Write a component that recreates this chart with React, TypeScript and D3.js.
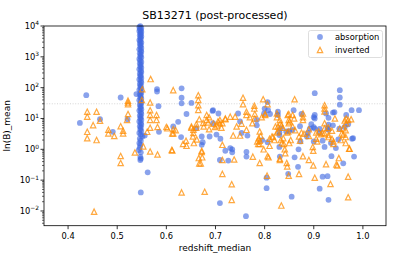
import React from 'react';
import * as d3 from 'd3';

// redshift_median, ln(B)_mean
const absorption: [number, number][] = [
  [0.437, 57], [0.424, 7.2], [0.465, 9.5], [0.507, 48], [0.539, 62], [0.521, 9.5], [0.491, 3.7],
  [0.581, 90], [0.581, 75], [0.584, 25], [0.631, 95], [0.631, 47], [0.631, 31], [0.651, 32], [0.641, 14],
  [0.614, 5.5], [0.661, 4.8], [0.585, 3.7], [0.556, 2.8], [0.562, 0.18], [0.548, 0.04], [0.63, 2.5],
  [0.695, 18.6], [0.706, 14.5], [0.806, 34], [0.902, 66], [0.953, 83], [0.953, 48], [0.953, 28],
  [0.977, 18.6], [0.992, 18.6], [0.966, 13], [0.939, 15.5], [0.902, 13], [0.902, 10], [0.827, 16.6],
  [0.8, 21], [0.746, 14.5], [0.695, 7], [0.75, 8], [0.784, 9], [0.784, 6], [0.811, 14], [0.892, 4.7],
  [0.902, 4.7], [0.952, 4.7], [0.928, 4.7], [0.939, 6], [0.85, 3.9], [0.872, 5.6],
  [0.763, 0.58], [0.804, 0.12], [0.804, 0.055], [0.709, 0.018], [0.762, 0.0068], [0.855, 0.029],
  [0.93, 0.023], [0.912, 0.053], [0.928, 0.135], [0.918, 0.13], [0.848, 0.16], [0.868, 0.27],
  [0.831, 0.58], [0.861, 0.55], [0.936, 0.6], [0.96, 0.35], [0.982, 0.58], [0.98, 2.3], [0.709, 0.45],
  [0.726, 0.43], [0.734, 1.0], [0.734, 0.8], [0.672, 1.4], [0.765, 2.8], [0.795, 2.0], [0.806, 1.7],
  [0.83, 1.2], [0.869, 1.0], [0.886, 2.6], [0.922, 1.2], [0.935, 1.6], [0.945, 1.1], [0.95, 2.1],
  [0.888, 3.4], [0.912, 3.4], [0.694, 17.6], [0.807, 18.6], [0.799, 14.5], [0.624, 7.8], [0.702, 3.0],
  [0.71, 2.2], [0.73, 1.1], [0.72, 0.9], [0.753, 3.4], [0.763, 0.83], [0.672, 2.6], [0.674, 1.7],
  [0.688, 2.6], [0.827, 13], [0.859, 18.6], [0.875, 14], [0.9, 11], [0.925, 14.5], [0.93, 10.5],
  [0.942, 16], [0.97, 6.5], [0.978, 2.2], [0.833, 4.7], [0.844, 3.8], [0.857, 4.3], [0.895, 6.5],
  [0.9, 5.2], [0.912, 4.6], [0.93, 6.3], [0.93, 4.3], [0.963, 5.3], [0.9, 1.8], [0.873, 1.8],
  [0.83, 3.5], [0.83, 2.9], [0.918, 1.9],
];

// the dense absorption column near z ~ 0.547
const absorptionColumn: [number, number][] = [
  [0.547, 9800], [0.545, 9200], [0.549, 8600], [0.546, 8000], [0.548, 7400], [0.545, 6900],
  [0.549, 6400], [0.547, 5900], [0.548, 5400], [0.546, 5000], [0.549, 4600], [0.547, 4200],
  [0.548, 3800], [0.545, 3500], [0.547, 3200], [0.549, 2900], [0.546, 2650], [0.548, 2400],
  [0.547, 2150], [0.549, 1950], [0.545, 1750], [0.548, 1600], [0.549, 1450], [0.546, 1300],
  [0.548, 1180], [0.547, 1050], [0.549, 950], [0.545, 850], [0.547, 760], [0.549, 680],
  [0.546, 610], [0.548, 550], [0.547, 490], [0.549, 440], [0.545, 395], [0.548, 355],
  [0.549, 320], [0.546, 285], [0.548, 255], [0.547, 230], [0.549, 205], [0.545, 185],
  [0.548, 165], [0.549, 148], [0.546, 132], [0.548, 118], [0.547, 106], [0.549, 95],
  [0.545, 85], [0.548, 76], [0.549, 68], [0.546, 61], [0.548, 55], [0.547, 49], [0.549, 44],
  [0.545, 39], [0.548, 35], [0.549, 31], [0.546, 28], [0.548, 25], [0.547, 22], [0.549, 20],
  [0.545, 18], [0.548, 16], [0.549, 14], [0.546, 12.5], [0.548, 11.2], [0.547, 10], [0.549, 9],
  [0.545, 8], [0.548, 7.1], [0.549, 6.3], [0.546, 5.6], [0.548, 5], [0.547, 4.4], [0.549, 3.9],
  [0.545, 3.4], [0.548, 3], [0.551, 2.6], [0.546, 2.2], [0.548, 1.9], [0.545, 1.6], [0.547, 1.4],
  [0.546, 1.15], [0.544, 0.95], [0.548, 0.8], [0.547, 0.57], [0.548, 0.5], [0.547, 0.45],
];

const inverted: [number, number][] = [
  [0.439, 16.6], [0.439, 11.5], [0.458, 16.6], [0.465, 8.5], [0.451, 6.1], [0.439, 3.7], [0.522, 38],
  [0.522, 33], [0.522, 29], [0.522, 14], [0.52, 9], [0.507, 5.6], [0.551, 89], [0.55, 40], [0.568, 190],
  [0.567, 33], [0.567, 18.6], [0.567, 13], [0.567, 9], [0.58, 13], [0.58, 9], [0.614, 83], [0.665, 57],
  [0.665, 40], [0.665, 27], [0.665, 19], [0.614, 4.5], [0.651, 5], [0.661, 5], [0.6, 5.3], [0.582, 5.3],
  [0.567, 5], [0.561, 3.7], [0.482, 4.3], [0.512, 4.0], [0.439, 2.3], [0.458, 2.0], [0.482, 3.3],
  [0.494, 2.7], [0.512, 3.3], [0.507, 0.61], [0.507, 0.36], [0.536, 0.79], [0.553, 1.25], [0.567, 0.85],
  [0.582, 0.68], [0.612, 0.92], [0.612, 3.3], [0.631, 0.04], [0.641, 1.3], [0.656, 1.6], [0.662, 2.1],
  [0.666, 0.52], [0.667, 0.35], [0.453, 0.0095], [0.655, 3.4], [0.756, 47], [0.756, 29], [0.797, 42],
  [0.806, 29], [0.779, 26], [0.779, 21], [0.861, 42], [0.922, 27], [0.922, 21], [0.966, 10], [0.943, 10],
  [0.878, 14.5], [0.825, 14.5], [0.825, 11], [0.801, 14], [0.801, 13], [0.847, 13], [0.857, 13],
  [0.763, 16.6], [0.763, 13], [0.78, 14], [0.78, 10], [0.73, 11.5], [0.74, 11.5], [0.72, 10],
  [0.682, 13], [0.682, 9], [0.709, 9], [0.709, 7], [0.794, 11], [0.922, 7], [0.922, 4.8], [0.953, 4.7],
  [0.966, 7], [0.97, 9], [0.862, 4.2], [0.827, 5.5], [0.851, 8], [0.86, 10], [0.827, 3.8],
  [0.805, 0.14], [0.733, 0.023], [0.733, 0.074], [0.714, 0.16], [0.678, 0.042], [0.834, 0.015],
  [0.97, 0.028], [0.934, 0.075], [0.902, 0.12], [0.97, 0.13], [0.87, 0.16], [0.849, 0.14], [0.79, 0.36],
  [0.776, 0.58], [0.806, 0.6], [0.808, 0.55], [0.831, 0.5], [0.831, 0.45], [0.845, 0.36], [0.846, 0.28],
  [0.878, 0.6], [0.89, 0.45], [0.899, 0.3], [0.925, 0.33], [0.946, 0.32], [0.948, 0.3], [0.951, 0.52],
  [0.972, 1.05], [0.965, 1.6], [0.714, 0.45], [0.738, 0.47], [0.714, 1.4], [0.672, 0.9], [0.673, 0.55],
  [0.67, 0.35], [0.75, 2.8], [0.736, 2.8], [0.785, 1.8], [0.788, 2.3], [0.787, 1.5], [0.798, 1.0],
  [0.81, 2.2], [0.815, 2.6], [0.82, 2.0], [0.838, 2.3], [0.839, 1.5], [0.841, 1.0], [0.842, 0.75],
  [0.87, 2.6], [0.872, 1.9], [0.898, 1.2], [0.899, 0.9], [0.905, 2.2], [0.907, 1.8], [0.93, 2.5],
  [0.937, 2.2], [0.94, 1.5], [0.965, 2.5], [0.96, 3.0], [0.922, 3.3], [0.957, 3.3], [0.602, 4.8],
  [0.614, 3.3], [0.619, 4.2], [0.651, 5.5], [0.655, 4.3], [0.661, 6.5], [0.667, 9.5], [0.675, 7.2],
  [0.676, 5.5], [0.685, 7.4], [0.687, 11], [0.687, 4.5], [0.696, 6.8], [0.699, 5.3], [0.703, 6],
  [0.705, 8], [0.712, 5], [0.714, 7], [0.72, 9.5], [0.743, 5.5], [0.753, 6.8], [0.763, 4.3], [0.77, 11],
  [0.775, 7], [0.79, 3.8], [0.792, 2.7], [0.79, 1.9], [0.79, 1.5], [0.81, 1.3], [0.817, 2.5],
  [0.822, 5.5], [0.825, 3.5], [0.611, 0.95], [0.672, 0.82], [0.634, 1.5], [0.64, 1.9], [0.654, 2.6],
  [0.922, 17], [0.849, 14], [0.878, 11], [0.878, 9], [0.963, 8.7], [0.976, 9.5], [0.973, 1.05],
  [0.831, 9], [0.832, 7], [0.834, 6], [0.837, 5], [0.849, 9], [0.849, 7], [0.857, 5.5], [0.846, 3.5],
  [0.848, 3.8], [0.89, 4.5], [0.905, 3.5], [0.91, 3.8], [0.915, 3.1], [0.918, 3.4], [0.93, 5],
  [0.937, 4], [0.93, 2.9], [0.94, 1.8], [0.965, 4.2], [0.96, 4.8], [0.875, 3.5], [0.88, 3.2],
  [0.89, 2.7], [0.85, 1.6], [0.853, 2.0], [0.833, 2.0], [0.835, 1.6], [0.955, 2.0],
];

const xTicks = [0.4, 0.5, 0.6, 0.7, 0.8, 0.9, 1.0];
const yExponents = [-2, -1, 0, 1, 2, 3, 4];
const threshold = 30;

const W = 399;
const H = 266;
const m = { left: 44, right: 386, top: 26, bottom: 225.7 };
const font = 'DejaVu Sans, sans-serif';
const blue = '#4169e1';
const orange = '#ff8c00';

const tri = (r: number) => `M0,${-r}L${r},${r}L${-r},${r}Z`;

export default function App() {
  const x = d3.scaleLinear().domain([0.351, 1.047]).range([m.left, m.right]);
  const y = d3.scaleLog().domain([0.00333, 10000]).range([m.bottom, m.top]);

  const minor: number[] = [];
  for (let e = -3; e < 4; e++) {
    for (let k = 2; k < 10; k++) {
      const v = k * Math.pow(10, e);
      if (v >= 0.00333 && v <= 10000) minor.push(v);
    }
  }

  const blues = [...absorption, ...absorptionColumn];

  return (
    <svg width={W} height={H} style={{ position: 'absolute', left: 0, top: 0 }} fontFamily={font}>
      <rect width={W} height={H} fill="white" />
      <line x1={m.left} x2={m.right} y1={y(threshold)} y2={y(threshold)}
        stroke="#cccccc" strokeWidth={0.8} strokeDasharray="1,1.6" />
      {blues.map((d, i) => (
        <circle key={'a' + i} cx={x(d[0])} cy={y(d[1])} r={2.9} fill={blue} fillOpacity={0.62} />
      ))}
      {inverted.map((d, i) => (
        <path key={'i' + i} d={tri(2.7)} transform={`translate(${x(d[0])},${y(d[1])})`}
          fill="none" stroke={orange} strokeOpacity={0.75} strokeWidth={1.2} />
      ))}
      <rect x={m.left} y={m.top} width={m.right - m.left} height={m.bottom - m.top}
        fill="none" stroke="black" strokeWidth={0.8} />
      {xTicks.map(t => (
        <g key={'x' + t} transform={`translate(${x(t)},${m.bottom})`}>
          <line y2={3.5} stroke="black" strokeWidth={0.8} />
          <text y={13.8} textAnchor="middle" fontSize={8.3}>{t.toFixed(1)}</text>
        </g>
      ))}
      {minor.map(v => (
        <line key={'m' + v} x1={m.left - 2} x2={m.left} y1={y(v)} y2={y(v)} stroke="black" strokeWidth={0.6} />
      ))}
      {yExponents.map(e => (
        <g key={'y' + e} transform={`translate(${m.left},${y(Math.pow(10, e))})`}>
          <line x2={-3.5} stroke="black" strokeWidth={0.8} />
          <text x={-5} y={3} textAnchor="end" fontSize={8.3}>
            10<tspan fontSize={5.9} dy={-3.6}>{e < 0 ? '\u2212' + -e : e}</tspan>
          </text>
        </g>
      ))}
      <text x={(m.left + m.right) / 2} y={19} textAnchor="middle" fontSize={11}>SB13271 (post-processed)</text>
      <text x={(m.left + m.right) / 2} y={251} textAnchor="middle" fontSize={9}>redshift_median</text>
      <text transform={`translate(9.5,${(m.top + m.bottom) / 2}) rotate(-90)`} textAnchor="middle" fontSize={9}>ln(B)_mean</text>
      <g>
        <rect x={308.5} y={30.5} width={74} height={27} rx={2} fill="white" fillOpacity={0.8} stroke="#d6d6d6" strokeWidth={0.8} />
        <circle cx={320} cy={37} r={2.9} fill={blue} fillOpacity={0.62} />
        <text x={335} y={39.8} fontSize={8.3}>absorption</text>
        <path d={tri(2.7)} transform="translate(320,50)" fill="none" stroke={orange} strokeOpacity={0.75} strokeWidth={1.2} />
        <text x={335} y={52.5} fontSize={8.3}>inverted</text>
      </g>
    </svg>
  );
}
